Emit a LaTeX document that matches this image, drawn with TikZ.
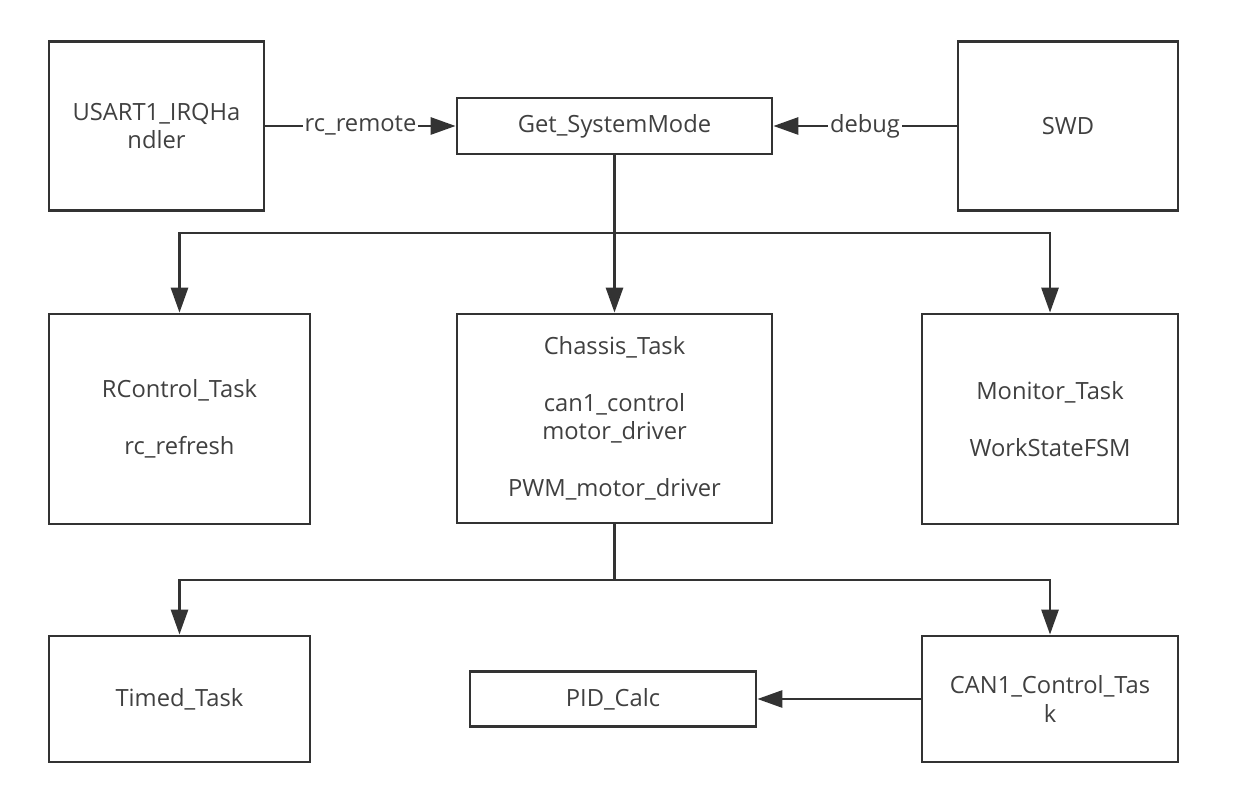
\documentclass[tikz,border=0pt]{standalone}
\usepackage{fontspec}
\setmainfont{Open Sans}
\usetikzlibrary{arrows.meta,positioning,calc}

\begin{document}
\begin{tikzpicture}[
    x=0.02cm, y=-0.02cm,
    >={Triangle[length=0.5cm,width=0.34cm]},
    font=\fontsize{13.5}{16.2}\selectfont,
    box/.style={draw=boxline,line width=1.6pt,fill=white,text=boxtext,align=center,inner sep=2pt},
    arr/.style={->,draw=boxline,line width=1.6pt},
    link/.style={draw=boxline,line width=1.6pt},
    lbl/.style={fill=white,text=boxtext,inner sep=1pt},
]
\definecolor{boxline}{RGB}{51,51,51}
\definecolor{boxtext}{RGB}{64,64,64}

\useasboundingbox[fill=white] (0,0) rectangle (1247,810);

% ================= top row: inputs and mode selection =================
\node[box,minimum width=4.3cm,minimum height=3.38cm] (usart) at (156.5,126) {USART1\_IRQHa\\ndler};
\node[box,minimum width=6.3cm,minimum height=1.12cm] (getmode) at (614.5,126) {Get\_SystemMode};
\node[box,minimum width=4.4cm,minimum height=3.38cm] (swd) at (1068,126) {SWD};

\draw[arr] (usart) -- node[lbl] {rc\_remote} (getmode);
\draw[arr] (swd) -- node[lbl] {debug} (getmode);

% ================= middle row: tasks =================
\node[box,minimum width=5.22cm,minimum height=4.2cm] (rctl) at (179.5,419) {RControl\_Task\\[16.2pt]rc\_refresh};
\node[box,minimum width=6.3cm,minimum height=4.18cm] (chassis) at (614.5,418.5) {Chassis\_Task\\[16.2pt]can1\_control\\motor\_driver\\[16.2pt]PWM\_motor\_driver};
\node[box,minimum width=5.12cm,minimum height=4.2cm] (monitor) at (1050,419) {Monitor\_Task\\[16.2pt]WorkStateFSM};

\coordinate (split1) at (614.5,233);
\draw[arr] (getmode) -- (chassis);
\draw[arr] (getmode.south) -- (split1) -| (rctl.north);
\draw[arr] (split1) -| (monitor.north);

% ================= bottom row =================
\node[box,minimum width=5.22cm,minimum height=2.52cm] (timed) at (179.5,699) {Timed\_Task};
\node[box,minimum width=5.72cm,minimum height=1.1cm] (pid) at (613,699) {PID\_Calc};
\node[box,minimum width=5.12cm,minimum height=2.52cm] (can1) at (1050,699) {CAN1\_Control\_Tas\\k};

\coordinate (split2) at (614.5,580);
\draw[link] (chassis.south) -- (split2);
\draw[arr] (split2) -| (timed.north);
\draw[arr] (split2) -| (can1.north);
\draw[arr] (can1) -- (pid);

\end{tikzpicture}
\end{document}
